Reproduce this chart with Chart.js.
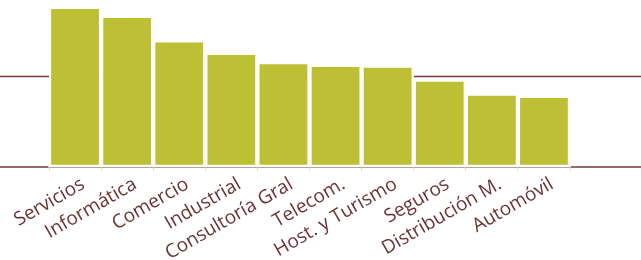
<!DOCTYPE html>
<html>
<head>
<meta charset="utf-8">
<script src="https://cdn.jsdelivr.net/npm/chart.js@4/dist/chart.umd.min.js"></script>
<style>
  html, body { margin: 0; padding: 0; background: #fff; }
  #wrap { width: 641px; height: 260px; }
</style>
</head>
<body>
<div id="wrap"><canvas id="chart"></canvas></div>
<script>
const categories = ["Servicios", "Informática", "Comercio", "Industrial", "Consultoría Gral",
    "Telecom.", "Host. y Turismo", "Seguros", "Distribución M.", "Automóvil"];
const values = [17.7, 16.7, 14.0, 12.6, 11.6, 11.3, 11.2, 9.65, 8.1, 7.85];
const gridValues = [0, 10];

// maroon lines run across the whole width, behind the bars
const fullWidthLines = {
    id: "fullWidthLines",
    beforeDraw(chart) {
        const ctx = chart.ctx;
        const y = chart.scales.y;
        gridValues.forEach((v, i) => {
            const py = y.getPixelForValue(v);
            ctx.save();
            ctx.beginPath();
            ctx.strokeStyle = i === 0 ? "#946a6a" : "#7a3a3a";
            ctx.lineWidth = i === 0 ? 2 : 1.5;
            ctx.moveTo(0, py);
            ctx.lineTo(chart.width, py);
            ctx.stroke();
            ctx.restore();
        });
    },
};

new Chart(document.getElementById("chart"), {
    type: "bar",
    data: {
        labels: categories,
        datasets: [
            {
                data: values,
                backgroundColor: "#bdbf35",
                borderColor: "#ffffff",
                borderWidth: 2.5,
                borderSkipped: false,
                barPercentage: 1,
                categoryPercentage: 1,
            },
        ],
    },
    options: {
        responsive: true,
        maintainAspectRatio: false,
        animation: false,
        layout: { padding: { left: 49, right: 71, top: 0, bottom: 0 } },
        plugins: {
            legend: { display: false },
            tooltip: { enabled: false },
        },
        scales: {
            x: {
                afterFit(scale) {
                    scale.height = 93;
                },
                grid: {
                    display: true,
                    drawOnChartArea: false,
                    drawTicks: true,
                    tickLength: 4,
                    color: "#dcdcdc",
                },
                border: { display: true, color: "#d9d9d9", width: 1.5 },
                ticks: {
                    autoSkip: false,
                    minRotation: 30,
                    maxRotation: 30,
                    color: "#6b3232",
                    padding: 2,
                    labelOffset: 8,
                    font: { family: "Open Sans", size: 19 },
                },
            },
            y: {
                display: false,
                min: 0,
                max: 18.45,
            },
        },
    },
    plugins: [fullWidthLines],
});
</script>
</body>
</html>
